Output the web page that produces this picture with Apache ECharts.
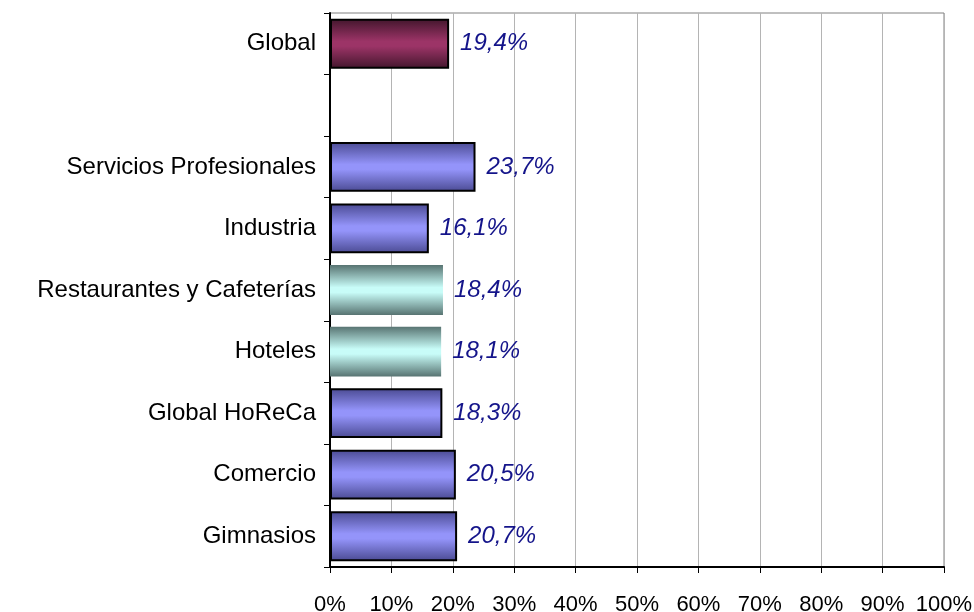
<!DOCTYPE html>
<html>
<head>
<meta charset="utf-8">
<script src="https://cdn.jsdelivr.net/npm/echarts@6/dist/echarts.min.js"></script>
<style>
    body { margin: 0; background: #fff; }
    #chart { width: 974px; height: 612px; }
</style>
</head>
<body>
<div id="chart"></div>
<script>
// categories from bottom to top, the empty one is the gap under "Global"
var categories = ["Gimnasios", "Comercio", "Global HoReCa", "Hoteles", "Restaurantes y Cafeterías", "Industria", "Servicios Profesionales", "", "Global"];
var values = [20.7, 20.5, 18.3, 18.1, 18.4, 16.1, 23.7, null, 19.4];
// colour group of every bar
var groups = ["blue", "blue", "blue", "teal", "teal", "blue", "blue", null, "wine"];
var xTicks = [0, 10, 20, 30, 40, 50, 60, 70, 80, 90, 100];

function shade(edge, mid) {
    return new echarts.graphic.LinearGradient(0, 0, 0, 1, [
        { offset: 0, color: edge },
        { offset: 0.45, color: mid },
        { offset: 0.55, color: mid },
        { offset: 1, color: edge }
    ]);
}

var styles = {
    blue: { color: shade("#4a4a92", "#9494fa"), borderColor: "#000", borderWidth: 2 },
    teal: { color: shade("#587472", "#c8fcf8"), borderWidth: 0 },
    wine: { color: shade("#42162c", "#9c3467"), borderColor: "#000", borderWidth: 2 }
};

var barData = values.map(function (v, i) {
    return { value: v, itemStyle: groups[i] ? styles[groups[i]] : {} };
});

var chart = echarts.init(document.getElementById("chart"));
chart.setOption({
    animation: false,
    grid: {
        left: 330, right: 30, top: 13, bottom: 45,
        outerBoundsMode: "none",
        show: true, borderColor: "#808080", borderWidth: 1
    },
    xAxis: {
        type: "value",
        min: 0, max: 100, interval: 10,
        axisLine: { show: true, lineStyle: { color: "#000", width: 2 } },
        axisTick: { show: true, length: 6, lineStyle: { color: "#000" } },
        splitLine: { show: true, lineStyle: { color: "#b4b4b4", width: 1 } },
        axisLabel: {
            margin: 27,
            color: "#000",
            fontFamily: "Liberation Sans, Arial, sans-serif",
            fontSize: 22,
            formatter: function (v) { return xTicks.indexOf(v) >= 0 ? v + "%" : ""; }
        }
    },
    yAxis: {
        type: "category",
        data: categories,
        axisLine: { show: true, lineStyle: { color: "#000", width: 2 } },
        axisTick: { show: true, length: 6, lineStyle: { color: "#000" } },
        splitLine: { show: false },
        axisLabel: {
            margin: 14,
            color: "#000",
            fontFamily: "Liberation Sans, Arial, sans-serif",
            fontSize: 24
        }
    },
    series: [{
        type: "bar",
        data: barData,
        barCategoryGap: "19%",
        label: {
            show: true,
            position: "right",
            distance: 11,
            color: "#14148a",
            fontStyle: "italic",
            fontFamily: "Liberation Sans, Arial, sans-serif",
            fontSize: 24,
            formatter: function (p) {
                return p.value == null ? "" : p.value.toFixed(1).replace(".", ",") + "%";
            }
        }
    }]
});
</script>
</body>
</html>
